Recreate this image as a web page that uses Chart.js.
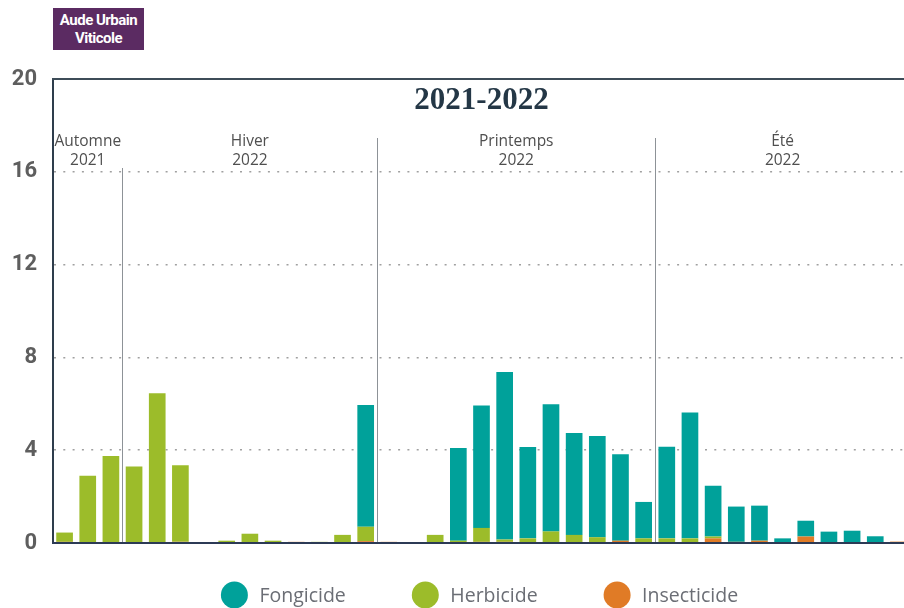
<!DOCTYPE html>
<html lang="fr">
<head>
<meta charset="utf-8">
<title>Aude Urbain Viticole 2021-2022</title>
<script src="https://cdn.jsdelivr.net/npm/chart.js@4.4.1/dist/chart.umd.min.js"></script>
<style>
  html, body { margin: 0; padding: 0; background: #fff; overflow: hidden; }
  #wrap { position: relative; width: 910px; height: 608px; }
  #tag {
    position: absolute; left: 53px; top: 8px; width: 91px; height: 42px;
    background: #5b2b62; color: #fff; font: bold 15px Roboto, sans-serif;
    line-height: 18px; text-align: center; letter-spacing: -0.5px;
    display: flex; flex-direction: column; justify-content: center;
  }
</style>
</head>
<body>
<div id="wrap">
  <canvas id="chart"></canvas>
  <div id="tag"><span>Aude Urbain</span><span>Viticole</span></div>
</div>
<script>
// one bar per period, Sept 2021 -> Aug 2022
const periods = ['1','2','3','4','5','6','7','8','9','10','11','12','13','14','15','16','17','18','19',
                 '20','21','22','23','24','25','26','27','28','29','30','31','32','33','34','35','36','37'];

const fongicide   = [0, 0, 0, 0, 0, 0, 0, 0, 0, 0, 0, 0, 0, 5.25, 0, 0, 0, 4.0, 5.28, 7.22, 3.94, 5.48, 4.39, 4.36, 3.73,
                     1.57, 3.95, 5.42, 2.19, 1.52, 1.51, 0.2, 0.68, 0.49, 0.5, 0.29, 0];
const herbicide   = [0.4, 2.9, 3.75, 3.3, 6.45, 3.3, 0, 0.1, 0.4, 0.1, 0, 0.05, 0.35, 0.62, 0, 0.03, 0.35, 0.1, 0.6, 0.1, 0.2,
                     0.5, 0.35, 0.25, 0, 0.2, 0.2, 0.2, 0.08, 0, 0, 0, 0, 0, 0, 0, 0];
const insecticide = [0.05, 0, 0, 0, 0, 0.05, 0, 0, 0, 0, 0.05, 0, 0, 0.08, 0.05, 0, 0, 0, 0.05, 0.05, 0, 0, 0, 0, 0.1,
                     0, 0, 0, 0.2, 0.05, 0.1, 0, 0.28, 0, 0.03, 0, 0.06];

const seasonNames  = ['Automne', 'Hiver', 'Printemps', 'Été'];
const seasonYears  = ['2021', '2022', '2022', '2022'];
const seasonStarts = [0, 3, 14, 26]; // index of first period in each season

const title = '2021-2022';
const legendOrder = ['Fongicide', 'Herbicide', 'Insecticide'];

// season separators, season names, title, top rule and legend
const decor = {
  id: 'decor',
  beforeDatasetsDraw(chart) {
    const { ctx, chartArea: a, scales: { x, y } } = chart;
    ctx.save();

    // top rule at 20
    const yTop = y.getPixelForValue(20);
    ctx.strokeStyle = '#3d4c58';
    ctx.lineWidth = 2;
    ctx.beginPath();
    ctx.moveTo(a.left - 1, yTop);
    ctx.lineTo(a.right, yTop);
    ctx.stroke();

    const half = (x.getPixelForValue(1) - x.getPixelForValue(0)) / 2;
    const edges = seasonStarts.map(i => i === 0 ? a.left : x.getPixelForValue(i) - half);
    edges.push(a.right);

    ctx.strokeStyle = '#8d9297';
    ctx.lineWidth = 1;
    for (let k = 1; k < seasonStarts.length; k++) {
      const xx = Math.round(edges[k]) + 0.5;
      ctx.beginPath();
      ctx.moveTo(xx, a.top + (k === 1 ? 89 : 59));
      ctx.lineTo(xx, a.bottom);
      ctx.stroke();
    }

    ctx.fillStyle = '#4f4f4f';
    ctx.font = '15.5px "Open Sans"';
    ctx.textAlign = 'center';
    ctx.textBaseline = 'middle';
    for (let k = 0; k < seasonNames.length; k++) {
      const cx = (edges[k] + edges[k + 1]) / 2;
      ctx.fillText(seasonNames[k], cx, a.top + 63);
      ctx.fillText(seasonYears[k], cx, a.top + 82);
    }

    ctx.font = 'bold 31px "Liberation Serif"';
    ctx.fillStyle = '#243746';
    ctx.fillText(title, (a.left + a.right) / 2, a.top + 22);
    ctx.restore();
  },
  afterDraw(chart) {
    const { ctx, chartArea: a } = chart;
    const items = legendOrder.map(name => chart.data.datasets.find(d => d.label === name));
    ctx.save();
    ctx.font = '19.5px "Open Sans"';
    ctx.textBaseline = 'middle';
    ctx.textAlign = 'left';
    const r = 13.5, gap = 11.5, space = 66;
    const widths = items.map(d => 2 * r + gap + ctx.measureText(d.label).width);
    const total = widths.reduce((s, w) => s + w, 0) + space * (items.length - 1);
    let xx = (a.left + a.right) / 2 - total / 2 - 2;
    const yy = 595;
    items.forEach((d, i) => {
      ctx.fillStyle = d.backgroundColor;
      ctx.beginPath();
      ctx.arc(xx + r, yy, r, 0, Math.PI * 2);
      ctx.fill();
      ctx.fillStyle = '#6b6e75';
      ctx.fillText(d.label, xx + 2 * r + gap, yy + 1);
      xx += widths[i] + space;
    });
    ctx.restore();
  }
};

new Chart('chart', {
  type: 'bar',
  data: {
    labels: periods,
    datasets: [
      { label: 'Insecticide', data: insecticide, backgroundColor: '#e07b26' },
      { label: 'Herbicide', data: herbicide, backgroundColor: '#9cbc2a' },
      { label: 'Fongicide', data: fongicide, backgroundColor: '#00a19a' }
    ]
  },
  options: {
    responsive: true,
    maintainAspectRatio: false,
    animation: false,
    layout: { padding: { top: 79, bottom: 65, left: 0, right: 0 } },
    datasets: { bar: { categoryPercentage: 1, barPercentage: 0.72, borderWidth: 0 } },
    plugins: { legend: { display: false }, tooltip: { enabled: false } },
    scales: {
      x: {
        stacked: true,
        grid: { display: false, drawTicks: false },
        ticks: { display: false },
        border: { color: '#2c3a55', width: 2, z: 1 }
      },
      y: {
        stacked: true,
        min: 0,
        max: 20,
        ticks: {
          stepSize: 4,
          padding: 16,
          color: '#5e5e5e',
          font: { family: 'Roboto', weight: 'bold', size: 22 }
        },
        grid: {
          drawTicks: false,
          lineWidth: 1.6,
          color: c => (c.tick && (c.tick.value === 0 || c.tick.value === 20)) ? 'rgba(0,0,0,0)' : '#a0a0a0'
        },
        border: { color: '#2e3d4c', width: 2, dash: [2, 7.3] },
        afterFit: s => { s.width = 53; }
      }
    }
  },
  plugins: [decor]
});
</script>
</body>
</html>
